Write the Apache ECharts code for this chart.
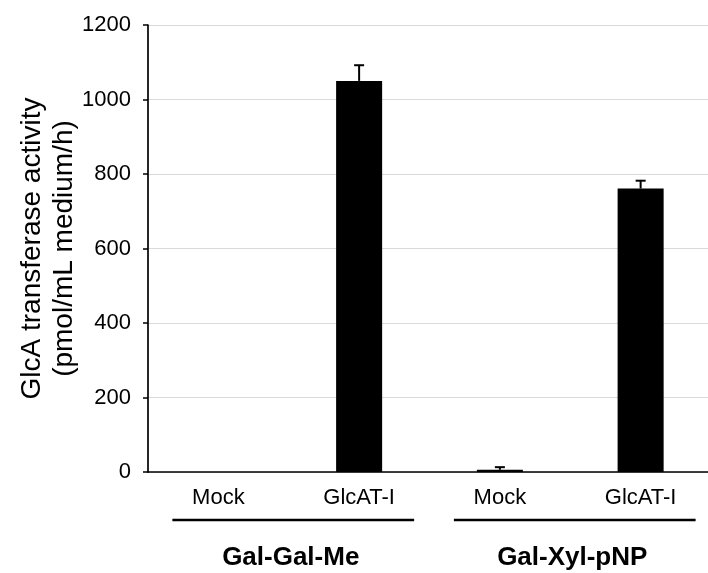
<!DOCTYPE html>
<html><head><meta charset="utf-8">
<script src="https://cdn.jsdelivr.net/npm/echarts@6/dist/echarts.min.js"></script>
<style>html,body{margin:0;padding:0;background:#fff}#c{width:708px;height:573px}</style>
</head><body><div id="c"></div>
<script>
const categories = ['Mock', 'GlcAT-I', 'Mock', 'GlcAT-I'];
const values = [0, 1050, 6, 761];
const errors = [0, 42, 7, 21];
const groups = ['Gal-Gal-Me', 'Gal-Xyl-pNP'];
const yTicks = [0, 200, 400, 600, 800, 1000, 1200];

const chart = echarts.init(document.getElementById('c'));
const font = '"Liberation Sans", Arial, sans-serif';
chart.setOption({
  animation: false,
  grid: {left: 148, right: -3, top: 25, bottom: 101, outerBoundsMode: 'none', containLabel: false},
  xAxis: {
    type: 'category', data: categories,
    axisLine: {lineStyle: {color: '#000', width: 1.7}},
    axisTick: {show: false},
    axisLabel: {color: '#000', fontSize: 22, fontFamily: font, margin: 15}
  },
  yAxis: {
    type: 'value', min: 0, max: 1200, interval: 200,
    name: 'GlcA transferase activity\n(pmol/mL medium/h)',
    nameLocation: 'middle', nameGap: 68, nameRotate: 90, nameMoveOverlap: false,
    nameTextStyle: {color: '#000', fontSize: 28, fontFamily: font, lineHeight: 32},
    axisLine: {show: true, lineStyle: {color: '#000', width: 1.7}},
    axisTick: {show: true, length: 5, lineStyle: {color: '#000', width: 1.5}},
    axisLabel: {color: '#000', fontSize: 22, fontFamily: font, margin: 17,
      formatter: v => yTicks.includes(v) ? String(v) : ''},
    splitLine: {lineStyle: {color: '#d9d9d9', width: 1.2}}
  },
  series: [{
    type: 'bar', data: values, barWidth: '32.7%',
    itemStyle: {color: '#000'}, z: 2
  }, {
    type: 'custom',
    data: values.map((v, i) => [i, v, v + errors[i]]),
    renderItem: function (params, api) {
      if (api.value(2) === api.value(1)) return null;
      const lo = api.coord([api.value(0), api.value(1)]);
      const hi = api.coord([api.value(0), api.value(2)]);
      const style = {stroke: '#000', lineWidth: 2};
      return {type: 'group', children: [
        {type: 'line', shape: {x1: lo[0], y1: lo[1], x2: hi[0], y2: hi[1]}, style},
        {type: 'line', shape: {x1: hi[0] - 5, y1: hi[1], x2: hi[0] + 5, y2: hi[1]}, style}
      ]};
    },
    z: 3
  }]
});

function drawGroups() {
  const y0 = chart.convertToPixel({yAxisIndex: 0}, 0);
  const els = [];
  for (let g = 0; g < groups.length; g++) {
    const a = chart.convertToPixel({xAxisIndex: 0}, g * 2);
    const b = chart.convertToPixel({xAxisIndex: 0}, g * 2 + 1);
    const mid = (a + b) / 2;
    els.push({type: 'line', shape: {x1: a - 46, y1: y0 + 48, x2: b + 55, y2: y0 + 48},
      style: {stroke: '#000', lineWidth: 2.3}});
    els.push({type: 'text', x: mid + 2, y: y0 + 86,
      style: {text: groups[g], fill: '#000', font: 'bold 26px ' + font,
        textAlign: 'center', textVerticalAlign: 'middle'}});
  }
  chart.setOption({graphic: els});
}
drawGroups();
</script></body></html>
